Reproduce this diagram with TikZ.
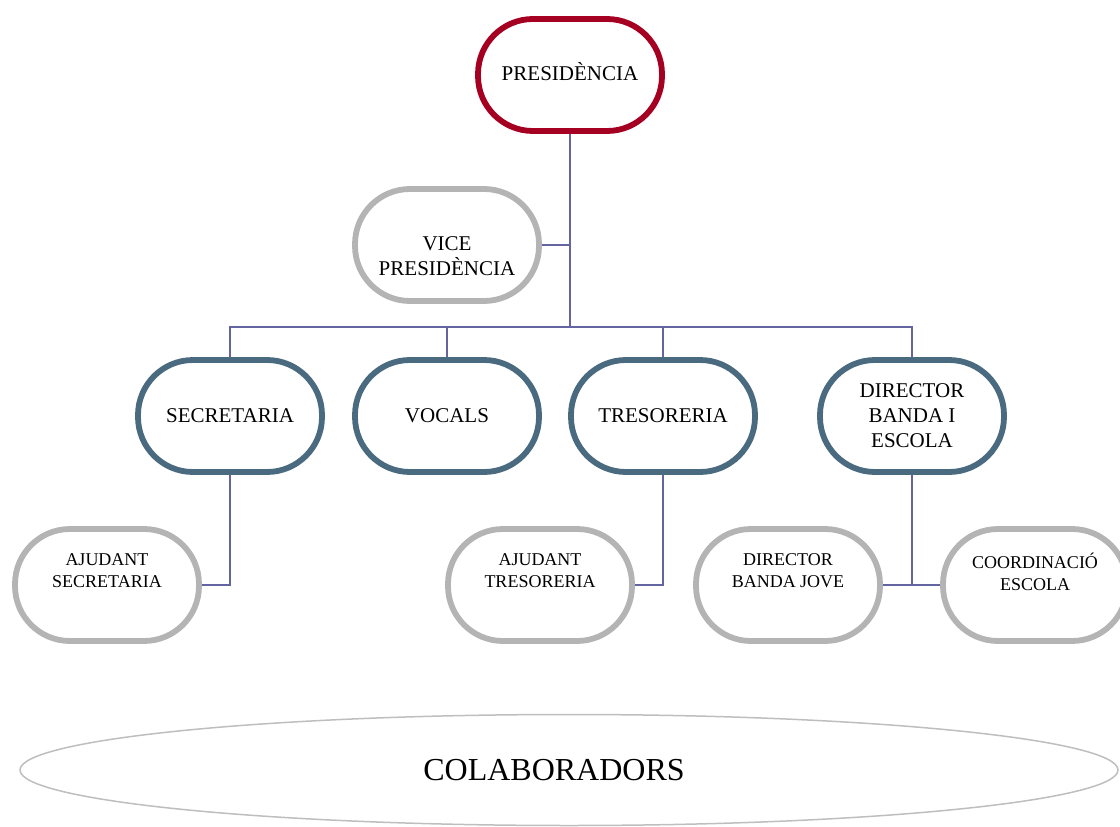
\documentclass[tikz,border=0pt]{standalone}
\usepackage{fontspec}
\setmainfont{Liberation Serif}
\usetikzlibrary{shapes.geometric,backgrounds}
\definecolor{presred}{RGB}{165,0,33}
\definecolor{slatec}{RGB}{74,106,128}
\definecolor{greyc}{RGB}{180,180,180}
\definecolor{linkc}{RGB}{100,100,160}
\definecolor{ellc}{RGB}{190,190,190}
\begin{document}
\begin{tikzpicture}[x=1pt,y=-1pt,
  box/.style={draw, line width=5.8pt, rounded corners=55pt, minimum width=184pt, minimum height=112pt,
    align=center, fill=white, inner sep=0pt, font=\fontsize{21}{25}\selectfont},
  redbox/.style={box, draw=presred},
  mainbox/.style={box, draw=slatec},
  greybox/.style={box, draw=greyc},
  subbox/.style={box, draw=greyc, font=\fontsize{18}{22}\selectfont},
  link/.style={draw=linkc, line width=2pt}]
\useasboundingbox (0,0) rectangle (1120,827);
\node[redbox] (pres) at (570,75) {PRESIDÈNCIA\\[-18pt]\mbox{}};
\node[greybox] (vice) at (447,245) {\mbox{}\\[12pt]VICE\\PRESIDÈNCIA};
\node[mainbox] (sec) at (230,416) {SECRETARIA};
\node[mainbox] (voc) at (447,416) {VOCALS};
\node[mainbox] (tres) at (663,416) {TRESORERIA};
\node[mainbox] (dir) at (912,416) {DIRECTOR\\BANDA I\\ESCOLA};
\node[subbox] (ajsec) at (107,585) {AJUDANT\\SECRETARIA\\[6pt]\mbox{}};
\node[subbox] (ajtres) at (540,585) {AJUDANT\\TRESORERIA\\[6pt]\mbox{}};
\node[subbox] (dbj) at (788,585) {DIRECTOR\\BANDA JOVE\\[6pt]\mbox{}};
\node[subbox] (coord) at (1035,585) {COORDINACIÓ\\ESCOLA\\[4pt]\mbox{}};
\node[ellipse, draw=ellc, line width=1.5pt, minimum width=1098pt, minimum height=111pt, inner sep=0pt,
  font=\fontsize{32}{38}\selectfont] (colab) at (569,770) {\hspace*{-30pt}COLABORADORS};
\coordinate (bus) at (0,327);
\begin{pgfonlayer}{background}
\draw[link] (pres.south) -- (pres.south |- bus);
\draw[link] (vice.east) -- (vice.east -| pres.south);
\draw[link] (sec.north) -- (sec.north |- bus) -| (dir.north);
\draw[link] (voc.north) -- (voc.north |- bus);
\draw[link] (tres.north) -- (tres.north |- bus);
\draw[link] (sec.south) |- (ajsec.east);
\draw[link] (tres.south) |- (ajtres.east);
\draw[link] (dir.south) |- (dbj.east);
\draw[link] (dir.south) |- (coord.west);
\end{pgfonlayer}
\end{tikzpicture}
\end{document}
